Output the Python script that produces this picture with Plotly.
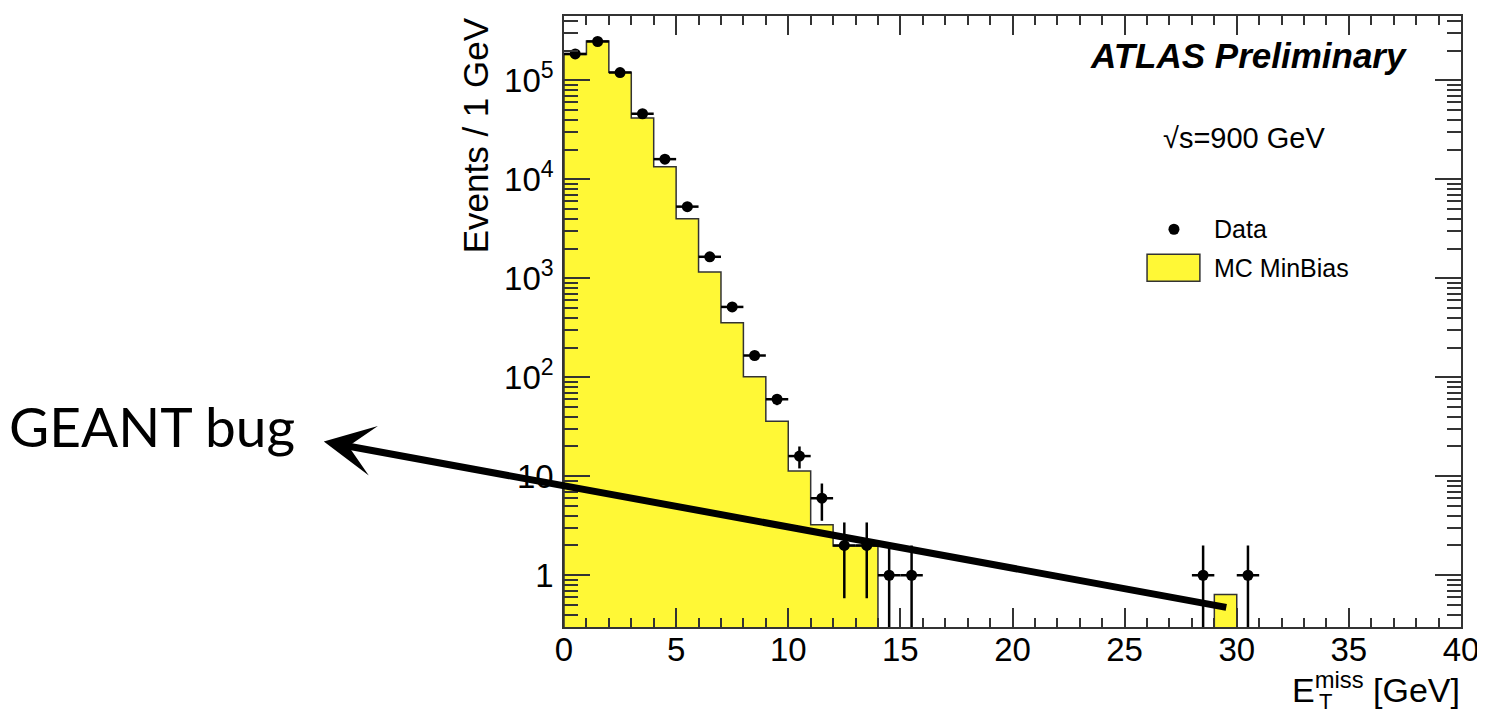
import numpy as np
import plotly.graph_objects as go

# MET distribution, 1 GeV bins from 0 to 40
bin_edges = list(range(0, 41))
bin_centers = [e + 0.5 for e in bin_edges[:-1]]

# MC MinBias histogram contents (0 = empty bin)
mc_counts = [1.83e5, 2.50e5, 1.21e5, 4.17e4, 1.34e4, 4.0e3, 1.16e3, 355, 101, 36,
             11.3, 3.24, 1.97, 1.97, 0, 0, 0, 0, 0, 0,
             0, 0, 0, 0, 0, 0, 0, 0, 0, 0.64,
             0, 0, 0, 0, 0, 0, 0, 0, 0, 0]

# data points (non-empty bins only)
data_x = [0.5, 1.5, 2.5, 3.5, 4.5, 5.5, 6.5, 7.5, 8.5, 9.5,
          10.5, 11.5, 12.5, 13.5, 14.5, 15.5, 28.5, 30.5]
data_y = [1.85e5, 2.47e5, 1.2e5, 4.6e4, 1.6e4, 5.3e3, 1.65e3, 514, 166, 60,
          16, 6, 2, 2, 1, 1, 1, 1]
data_err = list(np.sqrt(data_y))

y_tickvals = [1, 10, 100, 1e3, 1e4, 1e5]
y_ticktext = ['1', '10', '10<sup>2</sup>', '10<sup>3</sup>', '10<sup>4</sup>', '10<sup>5</sup>']

yellow = '#FFF836'
frame = '#333333'
font = 'Liberation Sans, Arial, sans-serif'
floor = 1e-3

# step outline of the histogram
out_x = [bin_edges[0]] + bin_edges[:-1] + [bin_edges[-1]]
out_y = [floor] + [v if v > 0 else floor for v in mc_counts] + [floor]

trace_fill = go.Bar(x=bin_centers, y=mc_counts, width=1,
                    marker=dict(color=yellow, line=dict(width=0)),
                    showlegend=False, hoverinfo='skip')
trace_line = go.Scatter(x=out_x, y=out_y, mode='lines', line_shape='hv',
                        line=dict(color=frame, width=1.5),
                        showlegend=False, hoverinfo='skip')
trace_data = go.Scatter(x=data_x, y=data_y, mode='markers',
                        marker=dict(color='black', size=11),
                        error_y=dict(type='data', array=data_err, color='black',
                                     thickness=2.5, width=0),
                        error_x=dict(type='constant', value=0.5, color='black',
                                     thickness=2.5, width=0),
                        showlegend=False)

minor_y = [k * 10 ** n for n in range(-1, 6) for k in range(2, 10)]

# page body has an 8px margin, so the figure is shifted accordingly
layout = go.Layout(
    width=1477, height=704,
    margin=dict(l=556, r=21, t=6, b=85),
    paper_bgcolor='white', plot_bgcolor='white',
    font=dict(family=font, color='black'),
    bargap=0,
    xaxis=dict(range=[0, 40], tickmode='array', tickvals=[0, 5, 10, 15, 20, 25, 30, 35, 40],
               ticks='inside', ticklen=19, tickwidth=1.5, tickcolor=frame,
               minor=dict(tickmode='array', tickvals=list(range(0, 41)), ticks='inside',
                          ticklen=9, tickwidth=1.5, tickcolor=frame),
               showline=True, linecolor=frame, linewidth=1.5, mirror='allticks',
               showgrid=False, zeroline=False, ticklabelstandoff=-7,
               tickfont=dict(size=33, family=font)),
    yaxis=dict(type='log', range=[np.log10(0.3), np.log10(4.47e5)],
               tickmode='array', tickvals=y_tickvals, ticktext=y_ticktext,
               ticks='inside', ticklen=26, tickwidth=1.5, tickcolor=frame,
               minor=dict(tickmode='array', tickvals=minor_y, ticks='inside',
                          ticklen=14, tickwidth=1.5, tickcolor=frame),
               showline=True, linecolor=frame, linewidth=1.5, mirror='allticks',
               showgrid=False, zeroline=False, ticklabelstandoff=2,
               tickfont=dict(size=33, family=font)),
    annotations=[
        dict(text='<b><i>ATLAS Preliminary</i></b>', x=0.942, y=0.935, xref='paper', yref='paper',
             xanchor='right', yanchor='middle', showarrow=False, font=dict(size=35)),
        dict(text='√s=900 GeV', x=0.666, y=0.801, xref='paper', yref='paper',
             xanchor='left', yanchor='middle', showarrow=False, font=dict(size=29)),
        dict(text='Data', x=0.7222, y=0.651, xref='paper', yref='paper',
             xanchor='left', yanchor='middle', showarrow=False, font=dict(size=25)),
        dict(text='MC MinBias', x=0.7222, y=0.588, xref='paper', yref='paper',
             xanchor='left', yanchor='middle', showarrow=False, font=dict(size=25)),
        dict(text='E<sup>miss</sup> [GeV]', x=1.001, y=-0.0995, xref='paper', yref='paper',
             xanchor='right', yanchor='middle', showarrow=False, font=dict(size=34)),
        dict(text='T', x=0.840, y=-0.1225, xref='paper', yref='paper',
             xanchor='left', yanchor='middle', showarrow=False, font=dict(size=22)),
        dict(text='Events / 1 GeV', x=-0.0989, y=1.0016, xref='paper', yref='paper',
             xanchor='center', yanchor='top', textangle=-90, showarrow=False, font=dict(size=35)),
        dict(text='GEANT bug', x=-0.621, y=0.3295, xref='paper', yref='paper',
             xanchor='left', yanchor='middle', showarrow=False,
             font=dict(size=55, family='Lato, sans-serif')),
        dict(text='', x=-0.2678, y=0.3034, xref='paper', yref='paper',
             ax=904, ay=166, showarrow=True, arrowhead=3, arrowwidth=7, arrowsize=1.2,
             arrowcolor='black', standoff=0),
    ],
    shapes=[
        dict(type='circle', xref='paper', yref='paper', xsizemode='pixel', ysizemode='pixel',
             xanchor=0.68, yanchor=0.651, x0=-5.5, x1=5.5, y0=-5.5, y1=5.5,
             fillcolor='black', line=dict(width=0)),
        dict(type='rect', xref='paper', yref='paper', x0=0.65, x1=0.7089, y0=0.566, y1=0.610,
             fillcolor=yellow, line=dict(color=frame, width=1.5)),
    ],
)

fig = go.Figure(data=[trace_fill, trace_line, trace_data], layout=layout)
fig.write_html('out.html')
